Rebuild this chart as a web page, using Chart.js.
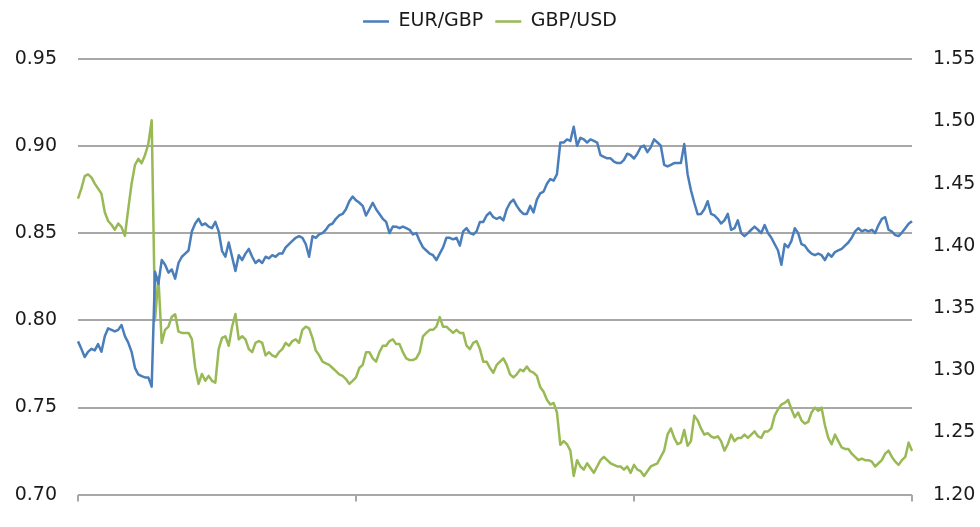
<!DOCTYPE html>
<html>
<head>
<meta charset="utf-8">
<script src="https://cdn.jsdelivr.net/npm/chart.js@4.4.1/dist/chart.umd.min.js"></script>
<style>
  html, body { margin: 0; padding: 0; background: #ffffff; }
  #wrap { width: 980px; height: 527px; background: #ffffff; }
</style>
</head>
<body>
<div id="wrap"><canvas id="c" width="980" height="527"></canvas></div>
<script>
// ---- Data ----
const seriesNames = ['EUR/GBP', 'GBP/USD'];

const eurGbp = [
  0.788, 0.7837, 0.779, 0.782, 0.7837, 0.7828, 0.7864, 0.782, 0.791, 0.7955,
  0.7946, 0.7937, 0.7946, 0.7974, 0.791, 0.7873, 0.782, 0.7728, 0.769, 0.768,
  0.7673, 0.7673, 0.762, 0.828, 0.821, 0.8347, 0.832, 0.8275, 0.8293, 0.824,
  0.833, 0.8366, 0.8384, 0.8402, 0.8512, 0.8557, 0.8584, 0.8548, 0.8557, 0.8539,
  0.853, 0.8566, 0.8512, 0.840, 0.8366, 0.8448, 0.8366, 0.8284, 0.8375, 0.8347,
  0.8384, 0.8411, 0.8366, 0.833, 0.8347, 0.833, 0.8366, 0.8357, 0.8375, 0.8366,
  0.8384, 0.8384, 0.842, 0.8439, 0.8457, 0.8475, 0.8484, 0.8475, 0.8439, 0.8366,
  0.8484, 0.8475, 0.8494, 0.8502, 0.8521, 0.8548, 0.8557, 0.8584, 0.8603, 0.8612,
  0.8639, 0.8685, 0.8712, 0.869, 0.8676, 0.8658, 0.8603, 0.8639, 0.8676, 0.8639,
  0.8612, 0.8584, 0.8566, 0.8502, 0.854, 0.8539, 0.853, 0.8539, 0.853, 0.8521,
  0.8494, 0.8502, 0.8457, 0.842, 0.8402, 0.8384, 0.8375, 0.8347, 0.8384, 0.842,
  0.8475, 0.8475, 0.8466, 0.8475, 0.843, 0.8512, 0.853, 0.8502, 0.8494, 0.8512,
  0.8566, 0.8566, 0.8603, 0.8621, 0.8593, 0.8584, 0.8593, 0.8575, 0.8639, 0.8676,
  0.8694, 0.8658, 0.863, 0.8612, 0.8612, 0.8658, 0.8621, 0.8694, 0.873, 0.874,
  0.8785, 0.8812, 0.8803, 0.884, 0.9022, 0.9022, 0.904, 0.9031, 0.9113, 0.9004,
  0.9049, 0.904, 0.9022, 0.904, 0.9031, 0.9022, 0.8949, 0.894, 0.8931, 0.8931,
  0.8913, 0.8904, 0.8904, 0.8922, 0.8958, 0.8949, 0.893, 0.8958, 0.8995, 0.9004,
  0.8967, 0.8995, 0.904, 0.9022, 0.9004, 0.8894, 0.8885, 0.8894, 0.8904, 0.8904,
  0.8904, 0.9013, 0.884, 0.8748, 0.8676, 0.861, 0.8612, 0.8639, 0.8685, 0.8612,
  0.8603, 0.8584, 0.8557, 0.8575, 0.8612, 0.8521, 0.853, 0.8575, 0.8502, 0.8484,
  0.8502, 0.8521, 0.8539, 0.8521, 0.8502, 0.8548, 0.8502, 0.8475, 0.8439, 0.8402,
  0.832, 0.8439, 0.842, 0.8457, 0.853, 0.8502, 0.8439, 0.843, 0.8402, 0.8384,
  0.8375, 0.8384, 0.8375, 0.8347, 0.8384, 0.8366, 0.8393, 0.8402, 0.8411, 0.843,
  0.8448, 0.8475, 0.8512, 0.853, 0.8512, 0.8521, 0.8512, 0.8521, 0.8502, 0.8548,
  0.8584, 0.8593, 0.8521, 0.851, 0.849, 0.8485, 0.8505, 0.853, 0.8555, 0.857
];

const gbpUsd = [
  1.438, 1.446, 1.456, 1.4575, 1.455, 1.45, 1.446, 1.442, 1.427, 1.420,
  1.417, 1.413, 1.418, 1.415, 1.408, 1.4295, 1.45, 1.465, 1.470, 1.4665,
  1.473, 1.482, 1.501, 1.34, 1.375, 1.322, 1.3325, 1.335, 1.343, 1.345,
  1.331, 1.330, 1.330, 1.330, 1.325, 1.302, 1.289, 1.297, 1.2915, 1.2955,
  1.2915, 1.29, 1.317, 1.326, 1.3273, 1.3197, 1.335, 1.3452, 1.3248, 1.3273,
  1.3248, 1.317, 1.3145, 1.322, 1.3235, 1.322, 1.312, 1.3145, 1.312, 1.3107,
  1.3145, 1.317, 1.322, 1.3197, 1.3235, 1.3248, 1.322, 1.3325, 1.335, 1.3337,
  1.326, 1.3158, 1.312, 1.3069, 1.3056, 1.3043, 1.3018, 1.2992, 1.2967, 1.2954,
  1.2929, 1.289, 1.2915, 1.2942, 1.3018, 1.3043, 1.3145, 1.3145, 1.3095, 1.3069,
  1.3145, 1.3197, 1.3197, 1.3235, 1.3248, 1.321, 1.321, 1.3145, 1.3095, 1.3082,
  1.3082, 1.3095, 1.3145, 1.3273, 1.330, 1.3325, 1.3325, 1.335, 1.3427, 1.335,
  1.335, 1.3325, 1.330, 1.3325, 1.330, 1.330, 1.3197, 1.317, 1.322, 1.3235,
  1.317, 1.3069, 1.3069, 1.3018, 1.298, 1.3043, 1.3069, 1.3095, 1.3043, 1.2967,
  1.2942, 1.2967, 1.3005, 1.2992, 1.303, 1.2992, 1.298, 1.2954, 1.2865, 1.2827,
  1.2762, 1.2724, 1.2737, 1.266, 1.24, 1.243, 1.2405, 1.2354, 1.215, 1.2277,
  1.2226, 1.2201, 1.2252, 1.2214, 1.2175, 1.2226, 1.2277, 1.2303, 1.2277, 1.2252,
  1.2239, 1.2226, 1.2226, 1.2201, 1.2226, 1.2175, 1.2239, 1.2201, 1.2188, 1.215,
  1.2188, 1.2226, 1.2239, 1.2252, 1.2303, 1.2354, 1.2482, 1.2532, 1.2456, 1.2405,
  1.2418, 1.252, 1.2392, 1.243, 1.2635, 1.2597, 1.2532, 1.2482, 1.2494, 1.2469,
  1.2456, 1.2469, 1.243, 1.2354, 1.2405, 1.2482, 1.243, 1.2456, 1.2456, 1.2482,
  1.2456, 1.2482, 1.2508, 1.2469, 1.2456, 1.2508, 1.2508, 1.2532, 1.2635, 1.2686,
  1.2724, 1.2737, 1.2762, 1.2686, 1.2622, 1.266, 1.2597, 1.2571, 1.2584, 1.266,
  1.2699, 1.2673, 1.2699, 1.2558, 1.2456, 1.2405, 1.2482, 1.243, 1.2379, 1.2367,
  1.2367, 1.2329, 1.2303, 1.2277, 1.229, 1.2277, 1.2277, 1.2265, 1.2226, 1.2252,
  1.2277, 1.2329, 1.2354, 1.2303, 1.2265, 1.2239, 1.2277, 1.2303, 1.2418, 1.235
];

// observation index categories (no date labels are printed on the reference)
const obsIndex = eurGbp.map((_, i) => i);
// indices where the x axis shows tick marks
const xTickIdx = [0, 83, 166, 249];

const leftTicks = { min: 0.70, max: 0.95, step: 0.05 };
const rightTicks = { min: 1.20, max: 1.55, step: 0.05 };

// ---- Styling ----
const FONT = { family: "'DejaVu Sans', Verdana, sans-serif", size: 19 };
const TEXT = '#1a1a1a';
const BLUE = '#4A7EBB';
const GREEN = '#98B954';
const GRID = '#a8a8a8';

const legendGap = {
  id: 'legendGap',
  beforeLayout(chart) {
    const lg = chart.legend;
    if (lg && !lg._gapPatched) {
      const origFit = lg.fit;
      lg.fit = function () { origFit.call(this); this.height += 18.3; };
      lg._gapPatched = true;
    }
  }
};

new Chart(document.getElementById('c'), {
  type: 'line',
  data: {
    labels: obsIndex,
    datasets: [
      {
        label: seriesNames[0],
        data: eurGbp,
        yAxisID: 'y',
        borderColor: BLUE,
        backgroundColor: BLUE,
        borderWidth: 2.5,
        pointRadius: 0,
        tension: 0,
        borderJoinStyle: 'round'
      },
      {
        label: seriesNames[1],
        data: gbpUsd,
        yAxisID: 'y2',
        borderColor: GREEN,
        backgroundColor: GREEN,
        borderWidth: 2.5,
        pointRadius: 0,
        tension: 0,
        borderJoinStyle: 'round'
      }
    ]
  },
  options: {
    responsive: false,
    animation: false,
    devicePixelRatio: 1,
    plugins: {
      legend: {
        display: true,
        position: 'top',
        labels: {
          usePointStyle: true,
          pointStyle: 'line',
          pointStyleWidth: 26,
          font: FONT,
          color: TEXT,
          padding: 12
        }
      },
      tooltip: { enabled: false }
    },
    scales: {
      x: {
        type: 'category',
        grid: {
          display: true,
          drawOnChartArea: false,
          drawTicks: true,
          tickLength: 7,
          lineWidth: 2,
          color: (c) => (xTickIdx.includes(c.index) ? GRID : 'rgba(0,0,0,0)')
        },
        border: { display: false },
        ticks: { display: false, autoSkip: false, maxRotation: 0 },
        afterFit: (s) => { s.height = 10.7; }
      },
      y: {
        position: 'left',
        min: leftTicks.min,
        max: leftTicks.max,
        ticks: {
          stepSize: leftTicks.step,
          padding: 21,
          font: FONT,
          color: TEXT,
          callback: (v) => Number(v).toFixed(2)
        },
        grid: { display: true, drawOnChartArea: true, drawTicks: false, color: GRID, lineWidth: 2 },
        border: { display: false },
        afterFit: (s) => { s.width = 78; }
      },
      y2: {
        position: 'right',
        min: rightTicks.min,
        max: rightTicks.max,
        ticks: {
          stepSize: rightTicks.step,
          padding: 21,
          font: FONT,
          color: TEXT,
          callback: (v) => Number(v).toFixed(2)
        },
        grid: { display: false, drawTicks: false },
        border: { display: false },
        afterFit: (s) => { s.width = 68; }
      }
    }
  },
  plugins: [legendGap]
});
</script>
</body>
</html>
